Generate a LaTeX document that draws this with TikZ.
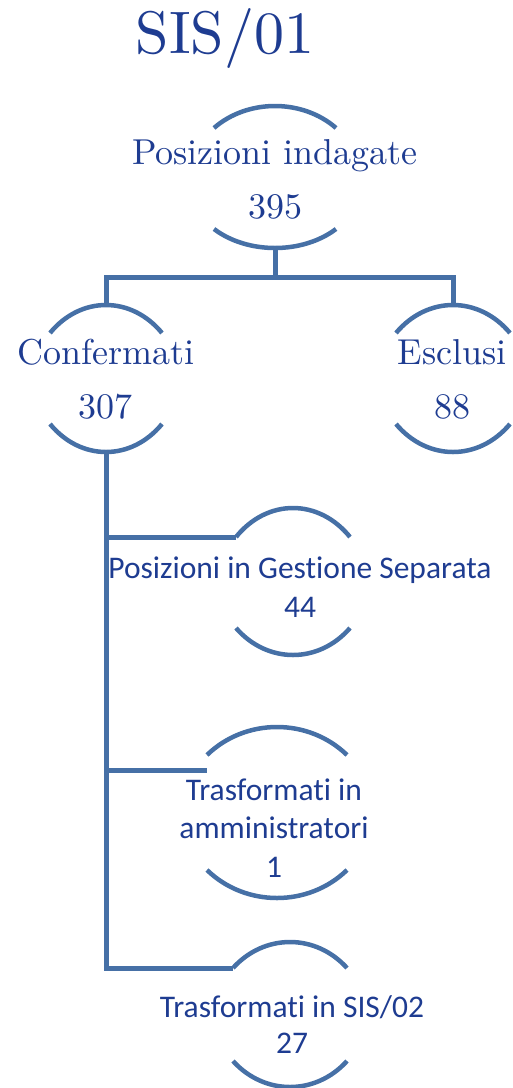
\documentclass[tikz,border=0pt]{standalone}
\usepackage{fontspec}
\usepackage{xcolor}
\usepackage{tikz}
\usetikzlibrary{calc,positioning}
\newfontfamily\calibri{Carlito}[Ligatures=NoCommon]
\newfontfamily\bookserif{lmroman10-regular}[Extension=.otf]
\definecolor{lineblue}{RGB}{70,112,166}
\definecolor{textblue}{RGB}{30,60,145}
\newcommand{\arcpair}[7]{
\coordinate (#1-tl) at (#2-#5,#3);
\coordinate (#1-tr) at (#2+#5,#3);
\coordinate (#1-bl) at (#2-#5,#4);
\coordinate (#1-br) at (#2+#5,#4);
\coordinate (#1-t) at (#2,#3-#6);
\coordinate (#1-b) at (#2,#4+#7);
\draw[arcline] (#1-tl) .. controls +({0.55*#5},{-4*#6/3}) and +({-0.55*#5},{-4*#6/3}) .. (#1-tr);
\draw[arcline] (#1-bl) .. controls +({0.55*#5},{4*#7/3}) and +({-0.55*#5},{4*#7/3}) .. (#1-br);
}

\begin{document}
\begin{tikzpicture}[x=1pt,y=-1pt,line width=4.5pt]
\tikzstyle{arcline}=[draw=lineblue, line width=4.5pt]
\tikzstyle{link}=[draw=lineblue, line width=5pt]
\tikzstyle{headline}=[text=textblue, font=\bookserif\fontsize{60}{62}\selectfont, anchor=base]
\tikzstyle{serifbox}=[text=textblue, font=\bookserif\fontsize{36}{54}\selectfont, align=center, anchor=base]
\tikzstyle{sansbox}=[text=textblue, font=\calibri\fontsize{31.5}{38.5}\selectfont, align=center, anchor=base]
\useasboundingbox (0,0) rectangle (513,1088);
\node[headline] (title) at (225,53) {SIS/01};
\node[serifbox] (root) at (275,218) {Posizioni indagate\\395};
\node[serifbox] (conf) at (106,418) {Confermati\\307};
\node[serifbox] (escl) at (452,418) {Esclusi\\88};
\node[sansbox] (gest) at (300,617) {Posizioni in Gestione Separata\\44};
\node[sansbox] (ammin) at (274,877) {Trasformati in\\amministratori\\1};
\node[sansbox] (sis) at (292,1053) {Trasformati in SIS/02\\[-2.5pt]27};
\arcpair{root}{275}{128}{229}{61}{22}{19}
\arcpair{conf}{106}{333}{424}{56}{28}{28}
\arcpair{escl}{453}{333}{424}{57}{28}{28}
\arcpair{gest}{293}{537}{628}{57}{29}{27}
\arcpair{ammin}{277}{755}{870}{70}{28}{28}
\arcpair{sis}{290}{968}{1061}{57}{26}{26}
\coordinate (fork) at (275,277);
\draw[link] (root-b) -- (fork);
\draw[link] (conf-t) |- (fork) -| (escl-t);
\draw[link] (conf-b) |- (gest-tl);
\draw[link] (conf-b) |- ($(ammin-tl)+(0,15)$);
\draw[link] (conf-b) |- (sis-tl);
\end{tikzpicture}
\end{document}
